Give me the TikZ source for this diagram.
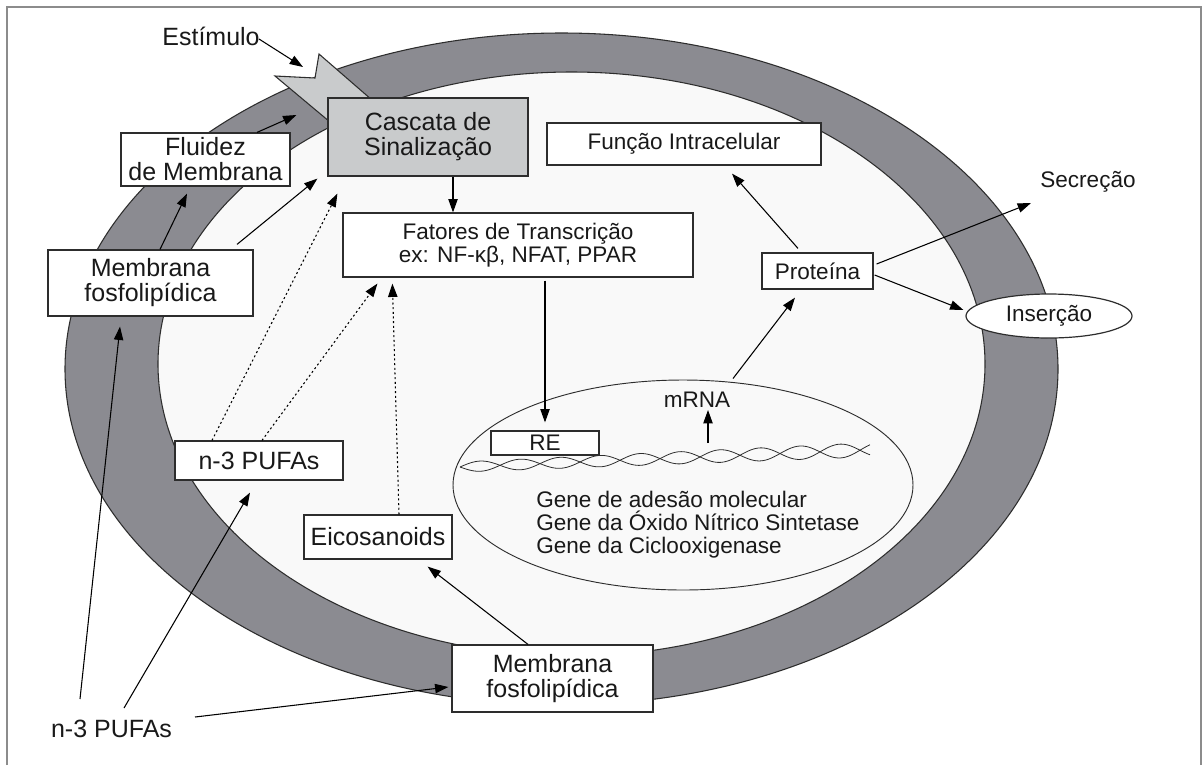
\documentclass[tikz,border=0pt]{standalone}
\usepackage{fontspec}
\setmainfont{Liberation Sans}
\usetikzlibrary{arrows.meta,calc,shapes.geometric}
\definecolor{ringgray}{RGB}{139,139,145}
\definecolor{cellin}{RGB}{249,249,249}
\definecolor{cascfill}{RGB}{201,203,204}
\definecolor{linecol}{RGB}{45,45,45}
\definecolor{framecol}{RGB}{140,140,140}
\definecolor{txt}{RGB}{25,25,25}
\begin{document}
\begin{tikzpicture}[x=0.75pt,y=-0.75pt,
  big/.style={font=\fontsize{18.75}{18.75}\selectfont},
  med/.style={font=\fontsize{16.9}{17.3}\selectfont},
  box/.style={draw=linecol, line width=0.9pt, fill=white, inner sep=0pt, align=center, text=txt},
  arr/.style={draw=black, line width=0.8pt, -{Triangle[length=10pt,width=7pt]}},
  dotarr/.style={arr, dash pattern=on 1.5pt off 2pt},
  lbl/.style={inner sep=0pt, text=txt}]
\useasboundingbox (0,0) rectangle (1203,765);
\fill[white] (0,0) rectangle (1203,765);
\draw[framecol, line width=1.5pt] (7,765) -- (7,7) -- (1201,7) -- (1201,765);

% cell membrane ring
\filldraw[fill=ringgray, draw=linecol, line width=0.8pt] (561.5,369) ellipse [x radius=496.5, y radius=336];
\filldraw[fill=cellin, draw=linecol, line width=0.8pt] (571.5,364) ellipse [x radius=413.5, y radius=292];

% nucleus
\node[ellipse, draw=linecol, line width=0.7pt, fill=cellin, minimum width=345pt, minimum height=157.5pt, inner sep=0pt] (nuc) at (683,485) {};

% DNA helix
\draw[linecol, line width=0.6pt] plot[domain=0:410, samples=240, smooth] ({460+\x}, {467-0.042*\x + (5+0.005*\x)*sin(4.5*\x)});
\draw[linecol, line width=0.6pt] plot[domain=0:410, samples=240, smooth] ({460+\x}, {467-0.042*\x - (5+0.005*\x)*sin(4.5*\x)});

% stimulus chevron
\filldraw[fill=cascfill, draw=linecol, line width=0.8pt] (275,76) -- (315,78) -- (319,54) -- (372,100) -- (330,122) -- cycle;

% boxes
\node[box, big, fill=cascfill, minimum width=150pt, minimum height=58.5pt] (casc) at (428,137) {Cascata de\\Sinalização};
\node[box, med, minimum width=205.5pt, minimum height=31.5pt] (func) at (684,144) {Função Intracelular};
\node[box, big, minimum width=126.75pt, minimum height=39.75pt] (fluid) at (205.5,159.5) {Fluidez\\de Membrana};
\node[box, big, minimum width=153.75pt, minimum height=49.5pt] (memL) at (150.5,283) {Membrana\\fosfolipídica};
\node[box, med, minimum width=262.5pt, minimum height=48pt] (fat) at (518,245) {Fatores de Transcrição\\ex: NF-κβ, NFAT, PPAR};
\node[box, med, minimum width=83.25pt, minimum height=27pt] (prot) at (817.5,271) {Proteína};
\node[box, big, minimum width=126pt, minimum height=29.25pt] (pufa) at (259,460.5) {n-3 PUFAs};
\node[box, big, minimum width=111pt, minimum height=33pt] (eico) at (378,537) {Eicosanoids};
\node[box, big, minimum width=150.75pt, minimum height=50.25pt] (memB) at (552.5,678.5) {Membrana\\fosfolipídica};
\node[box, med, minimum width=81pt, minimum height=18pt] (re) at (545,443) {RE};
\node[box, ellipse, med, minimum width=124.5pt, minimum height=33pt] (ins) at (1049,316) {Inserção};

% free labels
\node[lbl, big, anchor=base] (est) at (211,45) {Estímulo};
\node[lbl, med, anchor=base] (sec) at (1088,187) {Secreção};
\node[lbl, med, anchor=base] (mrna) at (697,407) {mRNA};
\node[lbl, big, anchor=base] (n3b) at (111.5,737) {n-3 PUFAs};
\node[lbl, med, anchor=base west] (g1) at (536,507) {Gene de adesão molecular};
\node[lbl, med, anchor=base west] (g2) at (536,530) {Gene da Óxido Nítrico Sintetase};
\node[lbl, med, anchor=base west] (g3) at (536,553) {Gene da Ciclooxigenase};

% connectors
\coordinate (stimtip) at (303,67);
\draw[arr] ($(est.base)+(48,-6)$) -- (stimtip);
\draw[arr] ($(fluid.north)+(51.5,0)$) -- ($(casc.west)+(-31,-22)$);
\draw[arr] ($(memL.north)+(9.5,0)$) -- ($(fluid.south)+(-18.5,7)$);
\draw[arr] ($(memL.north)+(86.5,-5)$) -- ($(casc.south west)+(-10,2)$);
\draw[dotarr] ($(pufa.north)+(-47,0)$) -- ($(casc.south west)+(10,17)$);
\draw[dotarr] ($(pufa.north)+(3,0)$) -- ($(fat.south west)+(35,6)$);
\draw[dotarr] ($(eico.north)+(21,0)$) -- ($(fat.south west)+(50,6)$);
\draw[arr] ($(casc.south)+(25,0)$) -- ($(fat.north)+(-65,0)$);
\draw[arr] ($(fat.south)+(27,3)$) -- ($(re.north)+(0,-8)$);
\draw[arr] ($(memB.north)+(-24.5,0)$) -- ($(eico.south east)+(-25,7)$);
\draw[arr] ($(n3b.base)+(-31.5,-38)$) -- ($(memL.south)+(-30.5,10)$);
\draw[arr] ($(n3b.base)+(12.5,-29)$) -- ($(pufa.south)+(-9,12)$);
\draw[arr] ($(n3b.base)+(83.5,-20)$) -- ($(memB.west)+(-3,8.5)$);
\draw[arr] ($(mrna.base)+(11,36)$) -- ($(mrna.base)+(11,3)$);
\draw[arr] ($(nuc.north)+(50,-1)$) -- ($(prot.south)+(-22.5,8)$);
\draw[arr] ($(prot.north)+(-19.5,-4)$) -- ($(func.south)+(48,8)$);
\draw[arr] ($(prot.east)+(3,-7)$) -- ($(sec.base)+(-57,16)$);
\draw[arr] ($(prot.east)+(1,4)$) -- ($(ins.west)+(-2,-6)$);
\end{tikzpicture}
\end{document}
